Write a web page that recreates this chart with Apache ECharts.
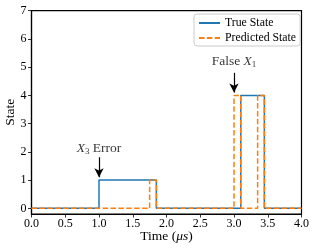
<!DOCTYPE html>
<html><head><meta charset="utf-8">
<script src="https://cdn.jsdelivr.net/npm/echarts@6/dist/echarts.min.js"></script>
<style>html,body{margin:0;padding:0;background:#fff}#c{width:316px;height:249px}</style>
</head><body><div id="c"></div>
<script>
// Data
var trueX = [0, 1.0, 1.85, 3.1, 3.45, 4.0];
var trueY = [0, 1, 0, 4, 0, 0];
var predX = [0, 1.75, 1.85, 3.0, 3.1, 3.35, 3.45, 4.0];
var predY = [0, 1, 0, 4, 0, 4, 0, 0];
var xTicks = [0, 0.5, 1.0, 1.5, 2.0, 2.5, 3.0, 3.5, 4.0];
var yTicks = [0, 1, 2, 3, 4, 5, 6, 7];
var noteX = [1.0, 3.0];
var noteY = [2.13, 5.2];
var noteText = ['{i|X}{s|3} Error', 'False {i|X}{s|1}'];
var arrowX = [1.0, 3.0];
var arrowFrom = [1.81, 4.8];
var arrowTo = [1.1, 4.1];

var FONT = 'Liberation Serif';
function pairs(xs, ys){ return xs.map(function(x,i){return [x, ys[i]];}); }

var chart = echarts.init(document.getElementById('c'), null, {renderer:'canvas'});
var rich = {
  i:{fontStyle:'italic', fontFamily:FONT, fontSize:13.5, color:'#000'},
  s:{fontFamily:FONT, fontSize:9, color:'#000', padding:[7,0,0,0]}
};
chart.setOption({
  animation:false,
  grid:{left:31.5, right:14.5, top:10.7, bottom:35, containLabel:false, outerBoundsMode:'none',
        show:true, borderColor:'#000', borderWidth:1.2, backgroundColor:'#fff'},
  legend:{
    data:['True State','Predicted State'], orient:'vertical', left:194, top:14,
    itemWidth:21, itemHeight:10, itemGap:3,
    itemStyle:{color:'rgba(0,0,0,0)', borderColor:'rgba(0,0,0,0)', borderWidth:0},
    borderColor:'#cccccc', borderWidth:1, borderRadius:3, padding:[3,4,2,4],
    backgroundColor:'rgba(255,255,255,0.8)',
    textStyle:{fontFamily:FONT, fontSize:11.8, color:'#000'}
  },
  xAxis:{
    type:'value', min:0, max:4, interval:0.5,
    name:'Time ({i|μs})', nameLocation:'middle', nameGap:15, nameMoveOverlap:false,
    nameTextStyle:{fontFamily:FONT, fontSize:13.5, color:'#000', rich:{i:{fontStyle:'italic', fontFamily:FONT, fontSize:13.5, color:'#000'}}},
    axisLine:{onZero:false, lineStyle:{color:'#000', width:1.2}},
    axisTick:{show:true, length:3.5, lineStyle:{color:'#000', width:0.8}},
    axisLabel:{fontFamily:FONT, fontSize:12, color:'#000', margin:4, formatter:function(v){return v.toFixed(1);}},
    splitLine:{show:false}
  },
  yAxis:{
    type:'value', min:-0.2, max:7,
    name:'State', nameLocation:'middle', nameGap:14, nameRotate:90, nameMoveOverlap:false,
    nameTextStyle:{fontFamily:FONT, fontSize:13.5, color:'#000'},
    axisLine:{lineStyle:{color:'#000', width:1.2}},
    axisTick:{show:true, length:3.5, customValues:yTicks, lineStyle:{color:'#000', width:0.8}},
    axisLabel:{fontFamily:FONT, fontSize:12, color:'#000', margin:5, customValues:yTicks},
    splitLine:{show:false}
  },
  series:[
    {name:'True State', type:'line', step:'end', symbol:'none', data:pairs(trueX,trueY),
     lineStyle:{color:'#1f77b4', width:1.5}, itemStyle:{color:'#1f77b4'}, z:2,
     markLine:{silent:true, symbol:['none','arrow'], symbolSize:[7,9],
       lineStyle:{color:'#000', width:1.2, type:'solid'}, label:{show:false},
       data: arrowX.map(function(x,i){return [{coord:[x, arrowFrom[i]]},{coord:[x, arrowTo[i]]}];})}
    },
    {name:'Predicted State', type:'line', step:'end', symbol:'none', data:pairs(predX,predY),
     lineStyle:{color:'#ff7f0e', width:1.5, type:[5.5,2.4]}, itemStyle:{color:'#ff7f0e'}, z:3},
    {name:'notes', type:'scatter', symbolSize:0, data:pairs(noteX,noteY), z:4,
     label:{show:true, position:'inside', color:'#000', fontFamily:FONT, fontSize:13.5,
       formatter:function(p){return noteText[p.dataIndex];}, rich:rich}}
  ]
});
</script></body></html>
